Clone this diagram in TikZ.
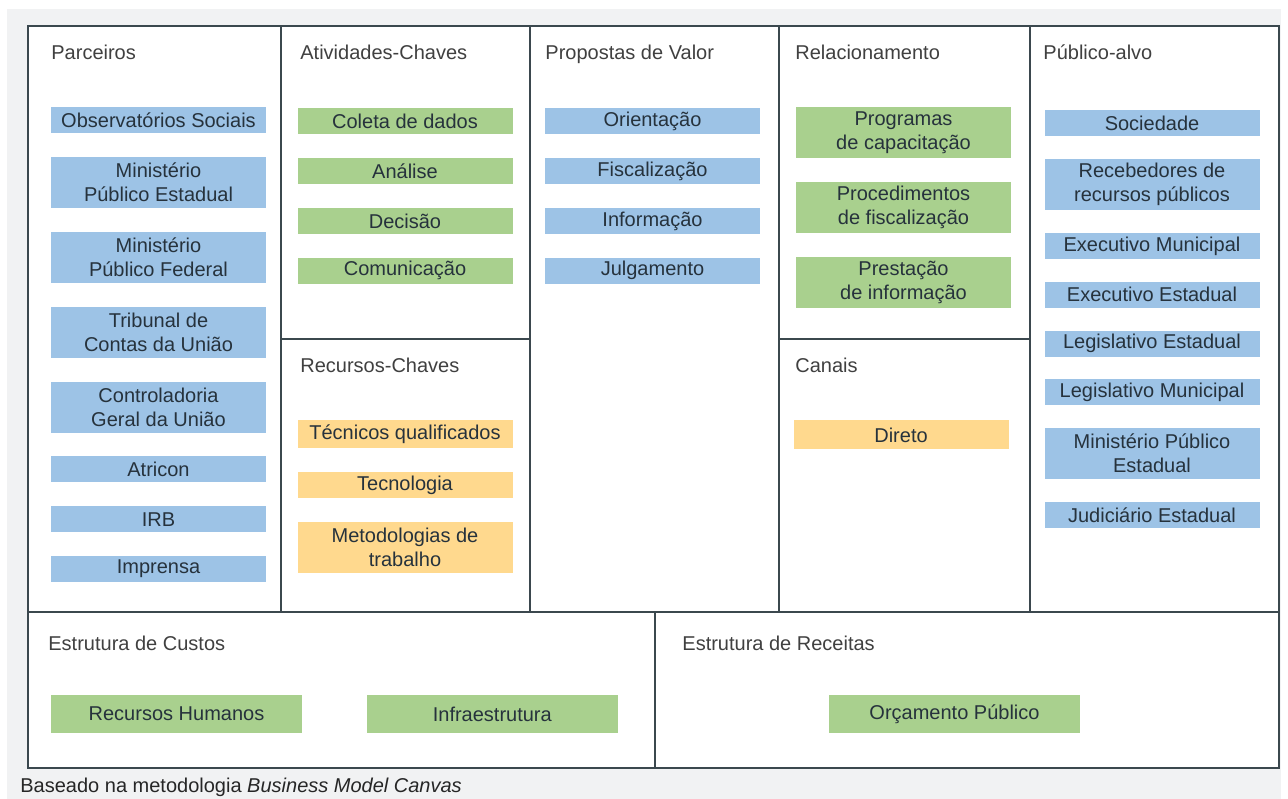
\documentclass[tikz,border=0pt]{standalone}
\usepackage{fontspec}
\setmainfont{Liberation Sans}
\usepackage{xcolor}
\usetikzlibrary{positioning}
\definecolor{fundo}{HTML}{F1F2F3}
\definecolor{linha}{HTML}{3B484E}
\definecolor{azul}{HTML}{9DC3E6}
\definecolor{verde}{HTML}{A9D08E}
\definecolor{laranja}{HTML}{FFD98E}
\definecolor{titulo}{HTML}{404040}
\definecolor{texto}{HTML}{26323C}

\begin{document}
\begin{tikzpicture}[x=0.5pt,y=-0.5pt,node distance=11.5pt,
    caixa/.style={rectangle,minimum width=107.5pt,minimum height=13pt,inner xsep=2pt,inner ysep=1pt,align=center,text=texto},
    dupla/.style={minimum height=25.5pt},
    base/.style={caixa,minimum width=125.5pt,minimum height=19pt},
    azulbox/.style={caixa,fill=azul},
    verdebox/.style={caixa,fill=verde},
    laranjabox/.style={caixa,fill=laranja},
    bloco/.style={anchor=base west,inner sep=0pt,text=titulo}]
      \useasboundingbox (0,0) rectangle (1288,798);
      \fill[fundo] (7,9) rectangle (1281,800);
      \fill[white] (28,26) rectangle (1279,768);
      \draw[linha,line width=1.2pt] (28,26) rectangle (1279,768)
      (28,612) -- (1279,612)
      (281,26) -- (281,612) (530,26) -- (530,612) (779,26) -- (779,612) (1030,26) -- (1030,612)
      (281,339) -- (530,339) (779,339) -- (1030,339)
      (655,612) -- (655,768);

      \node[bloco] (tpar) at (51,59) {Parceiros};
      \node[bloco] (tati) at (300,59) {Atividades-Chaves};
      \node[bloco] (tpro) at (545,59) {Propostas de Valor};
      \node[bloco] (trel) at (795,59) {Relacionamento};
      \node[bloco] (tpub) at (1043,59) {Público-alvo};
      \node[bloco] (trec) at (300,372) {Recursos-Chaves};
      \node[bloco] (tcan) at (795,372) {Canais};
      \node[bloco] (tcus) at (48,650) {Estrutura de Custos};
      \node[bloco] (trct) at (682,650) {Estrutura de Receitas};

      \node[azulbox,anchor=north] (pa1) at (158.5,107) {Observatórios Sociais};
      \node[azulbox,dupla,below=of pa1] (pa2) {Ministério\\Público Estadual};
      \node[azulbox,dupla,below=of pa2] (pa3) {Ministério\\Público Federal};
      \node[azulbox,dupla,below=of pa3] (pa4) {Tribunal de\\Contas da União};
      \node[azulbox,dupla,below=of pa4] (pa5) {Controladoria\\Geral da União};
      \node[azulbox,below=of pa5] (pa6) {Atricon};
      \node[azulbox,below=of pa6] (pa7) {IRB};
      \node[azulbox,below=of pa7] (pa8) {Imprensa};

      \node[verdebox,anchor=north] (at1) at (405,108) {Coleta de dados};
      \node[verdebox,below=of at1] (at2) {Análise};
      \node[verdebox,below=of at2] (at3) {Decisão};
      \node[verdebox,below=of at3] (at4) {Comunicação};

      \node[laranjabox,minimum height=14pt,anchor=north] (rc1) at (405,420) {Técnicos qualificados};
      \node[laranjabox,below=of rc1] (rc2) {Tecnologia};
      \node[laranjabox,dupla,below=of rc2] (rc3) {Metodologias de\\trabalho};

      \node[azulbox,anchor=north] (pv1) at (652.5,108) {Orientação};
      \node[azulbox,below=of pv1] (pv2) {Fiscalização};
      \node[azulbox,below=of pv2] (pv3) {Informação};
      \node[azulbox,below=of pv3] (pv4) {Julgamento};

      \node[verdebox,dupla,anchor=north] (re1) at (903.5,107) {Programas\\de capacitação};
      \node[verdebox,dupla,below=of re1] (re2) {Procedimentos\\de fiscalização};
      \node[verdebox,dupla,below=of re2] (re3) {Prestação\\de informação};

      \node[laranjabox,minimum height=14.5pt,anchor=north] (ca1) at (901,420) {Direto};

      \node[azulbox,anchor=north] (pb1) at (1152,110) {Sociedade};
      \node[azulbox,dupla,below=11pt of pb1] (pb2) {Recebedores de\\recursos públicos};
      \node[azulbox,below=11pt of pb2] (pb3) {Executivo Municipal};
      \node[azulbox,below=11pt of pb3] (pb4) {Executivo Estadual};
      \node[azulbox,below=11pt of pb4] (pb5) {Legislativo Estadual};
      \node[azulbox,below=11pt of pb5] (pb6) {Legislativo Municipal};
      \node[azulbox,dupla,below=11pt of pb6] (pb7) {Ministério Público\\Estadual};
      \node[azulbox,below=11pt of pb7] (pb8) {Judiciário Estadual};

      \node[base,fill=verde] (cu1) at (176.5,714) {Recursos Humanos};
      \node[base,fill=verde,right=32pt of cu1] (cu2) {Infraestrutura};
      \node[base,fill=verde] (rt1) at (954.5,714) {Orçamento Público};

      \node[anchor=base west,inner sep=0pt,text=black!85] (nota) at (20,792) {Baseado na metodologia \textit{Business Model Canvas}};
    \end{tikzpicture}
\end{document}
